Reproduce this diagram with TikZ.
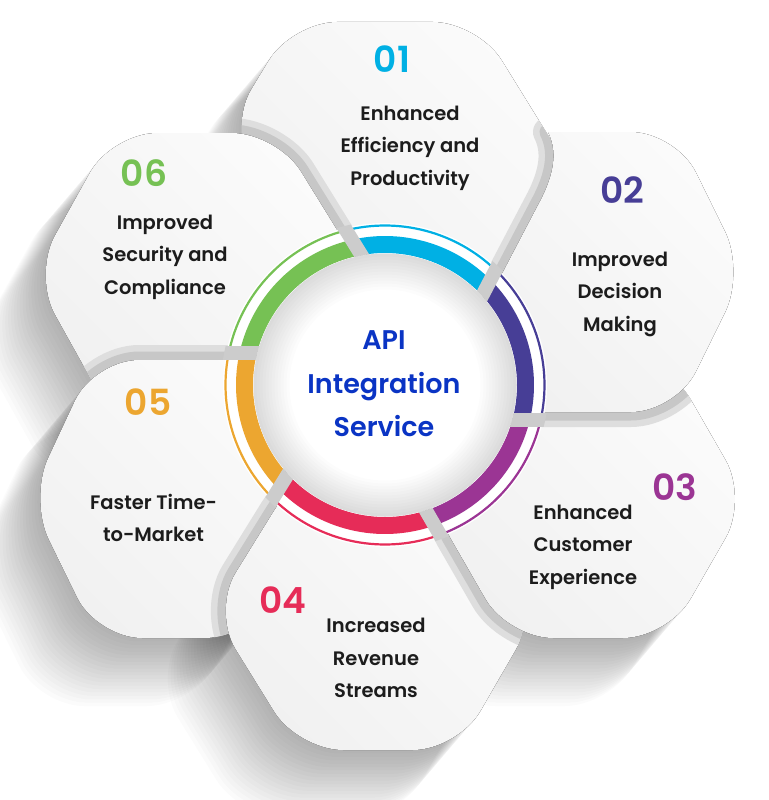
\documentclass[tikz,border=0pt]{standalone}
\usepackage{fontspec}
\setmainfont{Poppins}[UprightFont=* Medium,BoldFont=* SemiBold]
\definecolor{cA}{RGB}{0,176,228}
\definecolor{cB}{RGB}{71,62,150}
\definecolor{cC}{RGB}{155,53,148}
\definecolor{cD}{RGB}{230,44,88}
\definecolor{cE}{RGB}{236,166,48}
\definecolor{cF}{RGB}{118,193,84}
\definecolor{titleblue}{RGB}{10,52,196}
\definecolor{txtcol}{RGB}{28,28,28}
% hexagon outlines (pixel coordinates, y downwards), all clockwise on screen
\def\hexpA{[rounded corners=45pt] (228,128) -- (292,22) -- (478,22) -- (585,195) -- (480,310) -- (330,300) -- cycle}
\def\hexpF{[rounded corners=45pt] (33,275) -- (112,133) -- (277,133) -- (363,272) -- (280,417) -- (112,417) -- cycle}
\def\hexpE{[rounded corners=45pt] (29,499) -- (94,360) -- (300,360) -- (330,499) -- (250,638) -- (97,638) -- cycle}
\def\hexpD{[rounded corners=45pt] (212,611) -- (298,472) -- (458,472) -- (538,611) -- (458,750) -- (298,750) -- cycle}
\def\hexpC{[rounded corners=45pt] (428,499) -- (508,360) -- (668,360) -- (748,499) -- (668,638) -- (508,638) -- cycle}
\def\hexpB{(548,132) [rounded corners=45pt] -- (676,132) -- (745,272) -- (676,412) -- (490,412) -- (470,335) [sharp corners] -- (538,205) .. controls (556,172) and (557,150) .. (548,132) -- cycle}
\newcommand\ringarc[4]{\draw[#1] (c) ++({-(#2)}:#4) arc[start angle={-(#2)}, end angle={-(#3)}, radius=#4];}
\newcommand\longshadow[1]{\foreach \k in {1,...,20}{\fill[black,opacity=0.017,shift={(-\k*2.9,\k*3.4)}] #1;}}
\begin{document}
\begin{tikzpicture}[x=1pt,y=-1pt,
  hexfill/.style={top color=gray!3,bottom color=gray!11,shading angle=-45},
  bandlight/.style={draw=gray!26,line width=30pt,line join=round},
  banddark/.style={draw=gray!44,line width=17pt,line join=round},
  gapbar/.style={draw=gray!40,line width=14pt},
  thickring/.style={line width=17pt},
  thinring/.style={line width=2.2pt},
  txtstyle/.style={font=\fontsize{19.5}{32.5}\selectfont\bfseries, align=center, text=txtcol, inner sep=0pt},
  numstyle/.style={font=\fontsize{36}{36}\selectfont\bfseries, inner sep=0pt},
  titlestyle/.style={font=\fontsize{27}{43.5}\selectfont\bfseries, align=center, text=titleblue, inner sep=0pt}]
\useasboundingbox (0,0) rectangle (768,800);
\fill[white] (0,0) rectangle (768,800);
% long drop shadows towards the lower left
\longshadow{\hexpA}
\longshadow{\hexpF}
\longshadow{\hexpE}
\longshadow{\hexpD}
\longshadow{\hexpC}
\longshadow{\hexpB}
% hex 01 (lowest)
\fill[hexfill] \hexpA;
% hex 06
\begin{scope}\clip \hexpA; \draw[bandlight] \hexpF; \draw[banddark] \hexpF; \end{scope}
\fill[hexfill] \hexpF;
% hex 05
\begin{scope}\clip \hexpA \hexpF; \draw[bandlight] \hexpE; \draw[banddark] \hexpE; \end{scope}
\fill[hexfill] \hexpE;
% hex 04
\begin{scope}\clip \hexpA \hexpF \hexpE; \draw[bandlight] \hexpD; \draw[banddark] \hexpD; \end{scope}
\fill[hexfill] \hexpD;
% hex 03
\begin{scope}\clip \hexpA \hexpF \hexpE \hexpD; \draw[bandlight] \hexpC; \draw[banddark] \hexpC; \end{scope}
\fill[hexfill] \hexpC;
% hex 02 (top)
\begin{scope}\clip \hexpA \hexpF \hexpE \hexpD \hexpC; \draw[bandlight] \hexpB; \draw[banddark] \hexpB; \end{scope}
\fill[hexfill] \hexpB;
% centre disc
\coordinate (c) at (385,385);
\fill[white] (c) circle[radius=162];
\ringarc{cA,thickring}{44.4}{102.5}{140.5}
\ringarc{cB,thickring}{-13.8}{44.4}{140.5}
\ringarc{cC,thickring}{-70.8}{-13.8}{140.5}
\ringarc{cD,thickring}{-136}{-70.8}{140.5}
\ringarc{cE,thickring}{167}{224}{140.5}
\ringarc{cF,thickring}{102.5}{167}{140.5}
\ringarc{cA,thinring}{44.4}{102.5}{159.5}
\ringarc{cB,thinring}{-13.8}{44.4}{159.5}
\ringarc{cC,thinring}{-70.8}{-13.8}{159.5}
\ringarc{cD,thinring}{-136}{-70.8}{159.5}
\ringarc{cE,thinring}{167}{224}{159.5}
\ringarc{cF,thinring}{102.5}{167}{159.5}
% gaps where the hexagon edges pass
\begin{scope}
\clip (c) circle[radius=164];
\draw[gapbar] (341.3,222.6) -- (375.5,277.9);
\draw[gapbar] (472.7,313.8) -- (509.8,242.9);
\draw[gapbar] (500,419.5) -- (565,419.5);
\draw[gapbar] (414,489.7) -- (451.4,554.7);
\draw[gapbar] (268.7,505.1) -- (297.7,458.4);
\draw[gapbar] (205,352.5) -- (275,352.5);
\end{scope}
\fill[white] (c) circle[radius=131.5];
% inner shadow of the disc
\begin{scope}
\clip (c) circle[radius=131.5];
\foreach \w in {6,12,...,72} \draw[black,opacity=0.013,line width=\w pt] (c) circle[radius=131.5];
\end{scope}
% texts
\node[titlestyle] (title) at (384,384) {API\\Integration\\Service};
\node[numstyle,text=cA] (n01) at (392,59) {01};
\node[txtstyle] (t01) at (410,148) {Enhanced\\Efficiency and\\Productivity};
\node[numstyle,text=cB] (n02) at (622,190) {02};
\node[txtstyle] (t02) at (620,294) {Improved\\Decision\\Making};
\node[numstyle,text=cC] (n03) at (675,487) {03};
\node[txtstyle] (t03) at (583,547) {Enhanced\\Customer\\Experience};
\node[numstyle,text=cD] (n04) at (283,600) {04};
\node[txtstyle] (t04) at (376,658) {Increased\\Revenue\\Streams};
\node[numstyle,text=cE] (n05) at (148,402) {05};
\node[txtstyle] (t05) at (153.5,518) {Faster Time-\\to-Market};
\node[numstyle,text=cF] (n06) at (144,173) {06};
\node[txtstyle] (t06) at (165,257) {Improved\\Security and\\Compliance};
\end{tikzpicture}
\end{document}
